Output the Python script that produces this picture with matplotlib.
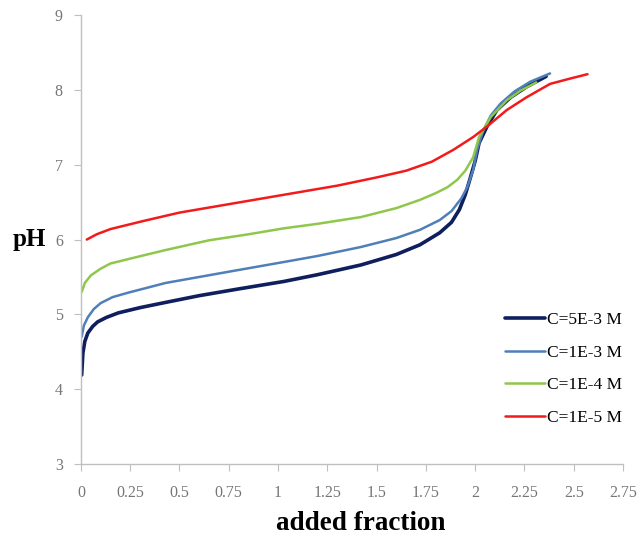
import matplotlib
matplotlib.use('Agg')
from matplotlib import pyplot as plt

# C=5E-3 M
x_5e3 = [0.004, 0.01, 0.02, 0.035, 0.06, 0.085, 0.13, 0.19, 0.3, 0.43, 0.6, 0.8, 1.03, 1.2, 1.42,
         1.6, 1.72, 1.82, 1.88, 1.92, 1.95, 1.975, 2.0, 2.02, 2.06, 2.11, 2.18, 2.26, 2.36]
ph_5e3 = [4.19, 4.48, 4.64, 4.75, 4.84, 4.90, 4.96, 5.02, 5.09, 5.16, 5.25, 5.34, 5.44, 5.53, 5.66,
          5.80, 5.93, 6.09, 6.23, 6.40, 6.60, 6.82, 7.05, 7.29, 7.51, 7.73, 7.90, 8.04, 8.18]
# C=1E-3 M
x_1e3 = [0.004, 0.015, 0.035, 0.065, 0.1, 0.16, 0.24, 0.43, 0.75, 1.03, 1.2, 1.42, 1.6, 1.72, 1.82,
         1.88, 1.93, 1.96, 1.99, 2.01, 2.04, 2.08, 2.13, 2.2, 2.28, 2.38]
ph_1e3 = [4.70, 4.85, 4.96, 5.07, 5.15, 5.23, 5.29, 5.42, 5.57, 5.70, 5.78, 5.90, 6.02, 6.13, 6.26,
          6.38, 6.55, 6.70, 6.93, 7.20, 7.45, 7.66, 7.82, 7.98, 8.11, 8.22]
# C=1E-4 M
x_1e4 = [0.004, 0.02, 0.05, 0.1, 0.15, 0.32, 0.43, 0.65, 0.85, 1.03, 1.2, 1.42, 1.6, 1.72, 1.8,
         1.86, 1.91, 1.95, 1.99, 2.02, 2.08, 2.16, 2.23, 2.31]
ph_1e4 = [5.30, 5.42, 5.52, 5.61, 5.68, 5.79, 5.86, 5.99, 6.07, 6.15, 6.21, 6.30, 6.42, 6.53, 6.62,
          6.70, 6.80, 6.92, 7.10, 7.37, 7.64, 7.86, 7.99, 8.10]
# C=1E-5 M
x_1e5 = [0.03, 0.08, 0.15, 0.32, 0.5, 0.7, 0.9, 1.1, 1.3, 1.5, 1.65, 1.78, 1.89, 1.99,
         2.06, 2.16, 2.26, 2.38, 2.48, 2.57]
ph_1e5 = [6.00, 6.07, 6.14, 6.25, 6.36, 6.45, 6.54, 6.63, 6.72, 6.83, 6.92, 7.04, 7.20, 7.37,
          7.51, 7.73, 7.90, 8.08, 8.15, 8.21]

labels = ['C=5E-3 M', 'C=1E-3 M', 'C=1E-4 M', 'C=1E-5 M']
xticks = [0, 0.25, 0.5, 0.75, 1, 1.25, 1.5, 1.75, 2, 2.25, 2.5, 2.75]
xtick_labels = ['0', '0.25', '0.5', '0.75', '1', '1.25', '1.5', '1.75', '2', '2.25', '2.5', '2.75']
yticks = [3, 4, 5, 6, 7, 8, 9]

plt.rcParams['font.family'] = ['Liberation Serif', 'DejaVu Serif']

fig = plt.figure(figsize=(6.37, 5.38), dpi=100)
ax = fig.add_axes([0.127, 0.1375, 0.851, 0.8345])

ax.plot(x_5e3, ph_5e3, color='#0f1f5e', lw=2.6, solid_capstyle='round', solid_joinstyle='round', label=labels[0])
ax.plot(x_1e3, ph_1e3, color='#4f7fb8', lw=1.8, solid_capstyle='round', solid_joinstyle='round', label=labels[1])
ax.plot(x_1e4, ph_1e4, color='#8fc74a', lw=1.8, solid_capstyle='round', solid_joinstyle='round', label=labels[2])
ax.plot(x_1e5, ph_1e5, color='#f21b1b', lw=1.8, solid_capstyle='round', solid_joinstyle='round', label=labels[3])

ax.set_xlim(0, 2.75)
ax.set_ylim(3, 9)
ax.set_xticks(xticks)
ax.set_xticklabels(xtick_labels)
ax.set_yticks(yticks)

for s in ['top', 'right']:
    ax.spines[s].set_visible(False)
for s in ['left', 'bottom']:
    ax.spines[s].set_color('#bfbfbf')
    ax.spines[s].set_linewidth(1.0)
ax.tick_params(axis='both', colors='#bfbfbf', labelcolor='#767676', labelsize=11.5, length=5)
ax.tick_params(axis='x', pad=10)
ax.tick_params(axis='y', pad=8)

ax.set_xlabel('added fraction', fontsize=19.5, fontweight='bold')
ax.xaxis.set_label_coords(0.517, -0.105)
ax.set_ylabel('pH', fontsize=18, fontweight='bold', rotation=0)
ax.yaxis.set_label_coords(-0.095, 0.475)

leg = ax.legend(loc='lower right', bbox_to_anchor=(1.028, 0.05), frameon=False, fontsize=12.5,
                handlelength=2.3, handletextpad=0.12, labelspacing=0.95)

plt.savefig('out.png', dpi=100)
